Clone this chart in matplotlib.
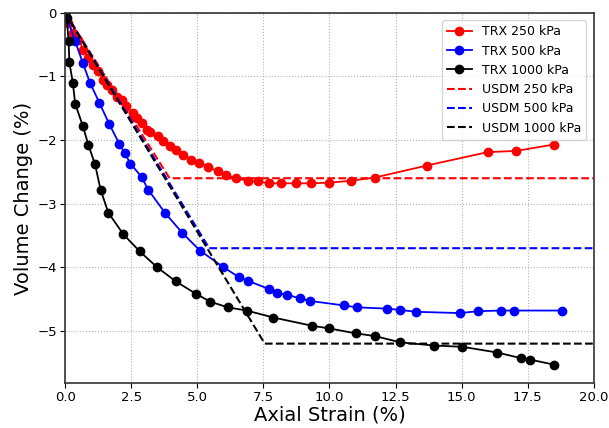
import matplotlib
matplotlib.use("Agg")
import matplotlib.pyplot as plt

# triaxial (TRX) measurements: axial strain (%) vs volume change (%)
trx250_strain = [0.0, 0.12, 0.31, 0.50, 0.69, 0.88, 1.07, 1.25, 1.44, 1.57, 1.76, 1.95,
                 2.14, 2.32, 2.57, 2.70, 2.89, 3.08, 3.20, 3.51, 3.70, 3.95, 4.21, 4.46,
                 4.77, 5.08, 5.40, 5.77, 6.09, 6.47, 6.90, 7.28, 7.72, 8.16, 8.73, 9.29,
                 9.98, 10.80, 11.71, 13.69, 15.98, 17.07, 18.49]
trx250_vol = [0.0, -0.16, -0.32, -0.42, -0.58, -0.71, -0.82, -0.92, -1.05, -1.13, -1.21, -1.32,
              -1.37, -1.47, -1.58, -1.66, -1.73, -1.84, -1.87, -1.94, -2.02, -2.10, -2.15, -2.23,
              -2.31, -2.36, -2.42, -2.49, -2.55, -2.60, -2.64, -2.65, -2.68, -2.68, -2.68, -2.68,
              -2.67, -2.64, -2.59, -2.40, -2.19, -2.17, -2.07]

trx500_strain = [0.0, 0.38, 0.67, 0.94, 1.29, 1.67, 2.05, 2.26, 2.47, 2.89, 3.14, 3.77,
                 4.43, 5.11, 5.96, 6.59, 6.90, 7.70, 8.03, 8.39, 8.88, 9.28, 10.55, 11.05,
                 12.18, 12.66, 13.28, 14.94, 15.61, 16.48, 16.99, 18.79]
trx500_vol = [0.0, -0.45, -0.79, -1.10, -1.41, -1.75, -2.06, -2.21, -2.37, -2.58, -2.78, -3.14,
              -3.46, -3.74, -3.99, -4.16, -4.21, -4.34, -4.41, -4.43, -4.49, -4.53, -4.60, -4.63,
              -4.65, -4.67, -4.70, -4.72, -4.69, -4.68, -4.68, -4.68]

trx1000_strain = [0.0, 0.06, 0.13, 0.16, 0.29, 0.38, 0.67, 0.88, 1.13, 1.34, 1.63, 2.20,
                  2.82, 3.48, 4.18, 4.96, 5.49, 6.15, 6.87, 7.88, 9.35, 9.98, 11.01, 11.71,
                  12.68, 13.96, 15.03, 16.35, 17.26, 17.58, 18.49]
trx1000_vol = [0.0, -0.08, -0.45, -0.78, -1.10, -1.43, -1.78, -2.08, -2.38, -2.78, -3.14, -3.48,
               -3.75, -4.00, -4.22, -4.42, -4.54, -4.63, -4.68, -4.79, -4.92, -4.96, -5.04, -5.08,
               -5.18, -5.23, -5.25, -5.34, -5.43, -5.45, -5.53]

# USDM model: linear contraction then constant volume
usdm250_strain = [0.0, 3.95, 20.0]
usdm250_vol = [0.0, -2.6, -2.6]
usdm500_strain = [0.0, 5.45, 20.0]
usdm500_vol = [0.0, -3.7, -3.7]
usdm1000_strain = [0.0, 7.55, 20.0]
usdm1000_vol = [0.0, -5.2, -5.2]

fig, ax = plt.subplots(figsize=(6.09, 4.28), dpi=100)
fig.subplots_adjust(left=0.107, right=0.975, top=0.970, bottom=0.105)

ax.plot(trx250_strain, trx250_vol, "o-", color="red", ms=6, lw=1.3, label="TRX 250 kPa")
ax.plot(trx500_strain, trx500_vol, "o-", color="blue", ms=6, lw=1.3, label="TRX 500 kPa")
ax.plot(trx1000_strain, trx1000_vol, "o-", color="black", ms=6, lw=1.3, label="TRX 1000 kPa")
ax.plot(usdm250_strain, usdm250_vol, "--", color="red", lw=1.5, label="USDM 250 kPa")
ax.plot(usdm500_strain, usdm500_vol, "--", color="blue", lw=1.5, label="USDM 500 kPa")
ax.plot(usdm1000_strain, usdm1000_vol, "--", color="black", lw=1.5, label="USDM 1000 kPa")

ax.set_xlim(0, 20)
ax.set_ylim(-5.82, 0)
ax.set_xticks([0, 2.5, 5, 7.5, 10, 12.5, 15, 17.5, 20])
ax.set_yticks([0, -1, -2, -3, -4, -5])
ax.grid(True, ls=":", color="#b0b0b0", lw=0.8)
ax.tick_params(labelsize=9.5, pad=2.5)
for s in ax.spines.values():
    s.set_color("#333333")
    s.set_linewidth(1.2)

ax.set_xlabel("Axial Strain (%)", fontsize=14, labelpad=1)
ax.set_ylabel("Volume Change (%)", fontsize=14, labelpad=3)
ax.legend(loc="upper right", fontsize=9, borderaxespad=0.6)

plt.savefig("out.png", dpi=100)
